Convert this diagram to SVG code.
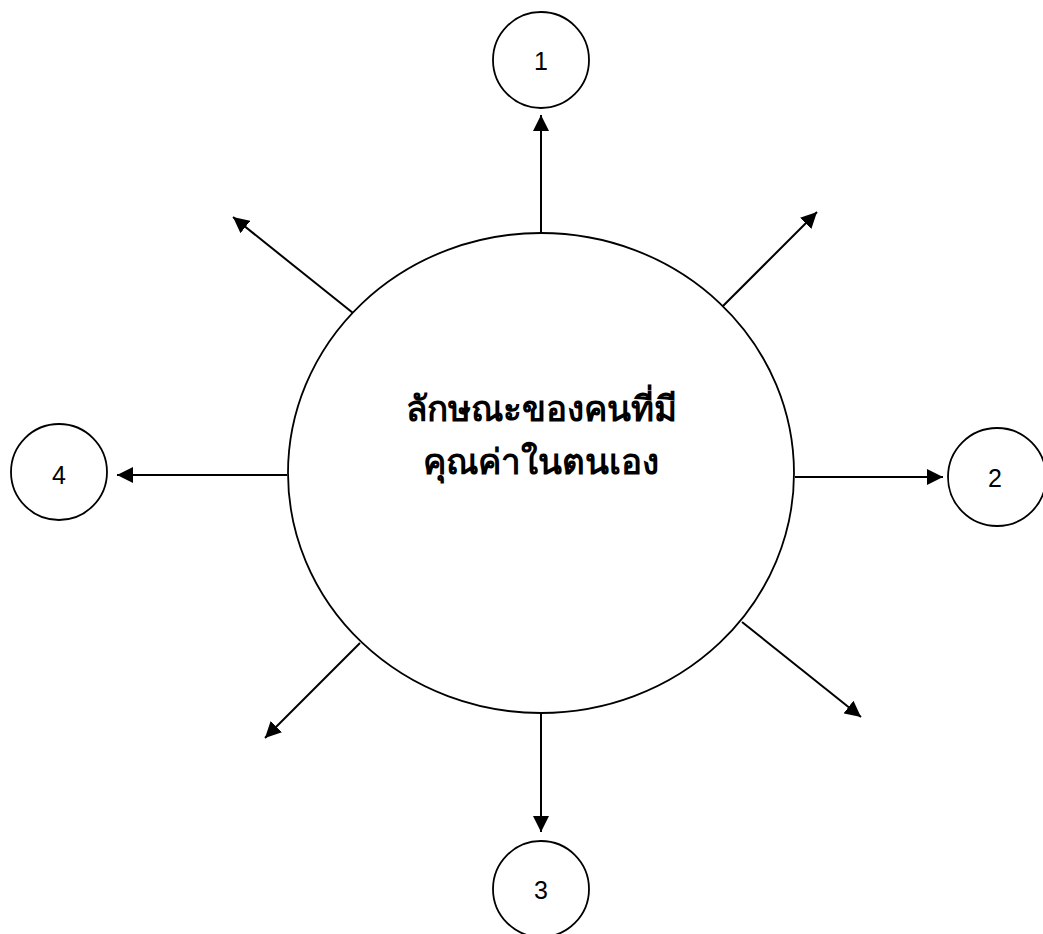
<svg xmlns="http://www.w3.org/2000/svg" width="1043" height="934" viewBox="0 0 1043 934">
  <style>
    .shape { fill: #ffffff; stroke: #000000; stroke-width: 1.8; }
    .link { fill: none; stroke: #000000; stroke-width: 2; marker-end: url(#head); }
    .num { font-family: "Liberation Sans", Arial, sans-serif; font-size: 25px; fill: #000000; text-anchor: middle; dominant-baseline: central; }
    .title { font-family: "Liberation Serif", "DejaVu Serif", serif; font-size: 35px; font-weight: bold; fill: #000000; text-anchor: middle; }
  </style>
  <defs>
    <marker id="head" markerUnits="userSpaceOnUse" markerWidth="17" markerHeight="16" refX="16" refY="8" orient="auto">
      <path d="M0,0 L16,8 L0,16 Z" fill="#000000"/>
    </marker>
  </defs>

  <rect width="1043" height="934" fill="#ffffff"/>

  <!-- spokes radiating from the central ellipse -->
  <g id="connectors">
    <line class="link" x1="541" y1="233" x2="541" y2="115"/>
    <line class="link" x1="795" y1="477" x2="943" y2="477"/>
    <line class="link" x1="541" y1="713" x2="541" y2="832"/>
    <line class="link" x1="287" y1="475" x2="117" y2="475"/>
    <line class="link" x1="353" y1="313" x2="233" y2="217"/>
    <line class="link" x1="722" y1="307" x2="817" y2="212"/>
    <line class="link" x1="360" y1="643" x2="265" y2="738"/>
    <line class="link" x1="742" y1="622" x2="861" y2="717"/>
  </g>

  <g id="center">
    <ellipse class="shape" cx="541" cy="473" rx="253" ry="240"/>
    <text class="title" x="541" y="421">ลักษณะของคนที่มี</text>
    <text class="title" x="541" y="474">คุณค่าในตนเอง</text>
  </g>

  <g id="node-1">
    <circle class="shape" cx="541" cy="60" r="48"/>
    <text class="num" x="541" y="61">1</text>
  </g>

  <g id="node-2">
    <circle class="shape" cx="997" cy="477" r="49"/>
    <text class="num" x="995" y="478">2</text>
  </g>

  <g id="node-3">
    <circle class="shape" cx="541" cy="889" r="48"/>
    <text class="num" x="541" y="890">3</text>
  </g>

  <g id="node-4">
    <circle class="shape" cx="59" cy="472" r="48"/>
    <text class="num" x="59" y="475">4</text>
  </g>
</svg>
